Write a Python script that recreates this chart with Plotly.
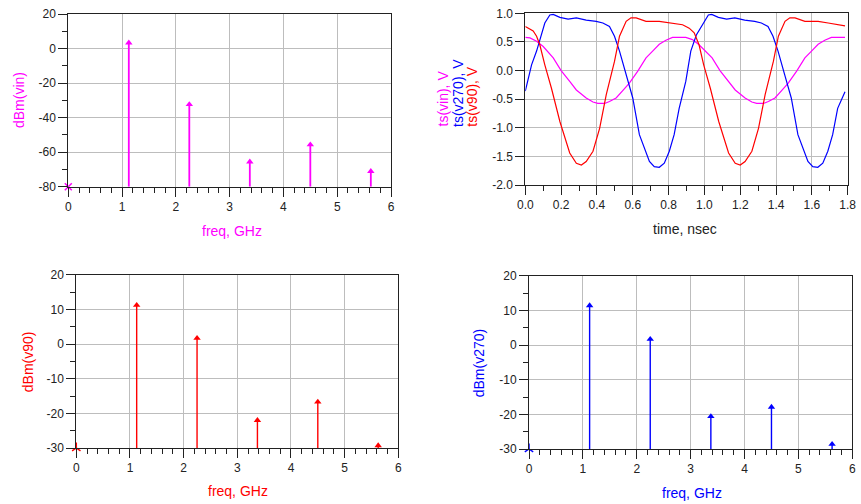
import plotly.graph_objects as go

W, H = 861, 504
FONT = "Arial, Liberation Sans, sans-serif"
MAG, BLUE, RED = "#ff00ff", "#0000ff", "#ff0000"

# ---------------- data ----------------
harm_freq = [1.125, 2.25, 3.375, 4.5, 5.625]   # GHz
dc_freq = [0.0]
dbm_vin = [3.3, -32.4, -65.6, -55.7, -71.1]
dbm_v90 = [11.2, 1.7, -22.0, -16.7, -29.3]
dbm_v270 = [11.4, 1.7, -20.6, -17.9, -28.6]
floor_vin = -80
floor_v = -30

t_vin = [0.0, 0.026, 0.063, 0.1, 0.156, 0.2, 0.248, 0.285, 0.34, 0.378, 0.405, 0.443,
         0.47, 0.507, 0.544, 0.581, 0.628, 0.674, 0.711, 0.748, 0.785, 0.822, 0.896,
         0.933, 0.97, 1.043, 1.087, 1.135, 1.172, 1.227, 1.265, 1.292, 1.33, 1.357,
         1.394, 1.431, 1.468, 1.515, 1.561, 1.598, 1.635, 1.672, 1.709, 1.785]
ts_vin = [0.58, 0.57, 0.51, 0.42, 0.22, 0.0, -0.19, -0.34, -0.48, -0.55, -0.575, -0.575,
          -0.54, -0.48, -0.35, -0.22, -0.01, 0.22, 0.34, 0.46, 0.53, 0.58, 0.58,
          0.54, 0.45, 0.22, 0.0, -0.19, -0.34, -0.48, -0.55, -0.575, -0.575, -0.54,
          -0.48, -0.35, -0.22, -0.01, 0.22, 0.34, 0.46, 0.53, 0.58, 0.58]

t_v90 = [0.0, 0.044, 0.063, 0.081, 0.109, 0.146, 0.193, 0.248, 0.285, 0.313, 0.34, 0.378,
         0.415, 0.452, 0.498, 0.526, 0.563, 0.59, 0.619, 0.674, 0.748, 0.804, 0.878,
         0.915, 0.943, 0.97, 0.996, 1.033, 1.08, 1.135, 1.172, 1.2, 1.227, 1.265, 1.302,
         1.339, 1.385, 1.413, 1.45, 1.477, 1.506, 1.561, 1.635, 1.691, 1.765, 1.785]
ts_v90 = [0.77, 0.69, 0.6, 0.45, 0.10, -0.31, -0.89, -1.44, -1.62, -1.65, -1.59, -1.41,
          -1.01, -0.42, 0.16, 0.6, 0.86, 0.92, 0.92, 0.86, 0.86, 0.83, 0.8,
          0.74, 0.66, 0.45, 0.10, -0.31, -0.89, -1.44, -1.62, -1.65, -1.59, -1.41, -1.01,
          -0.42, 0.16, 0.6, 0.86, 0.92, 0.92, 0.86, 0.86, 0.83, 0.8, 0.78]

t_v270 = [0.0, 0.017, 0.035, 0.063, 0.081, 0.109, 0.137, 0.156, 0.193, 0.239, 0.285, 0.34,
          0.396, 0.433, 0.47, 0.498, 0.526, 0.563, 0.6, 0.637, 0.665, 0.693, 0.72, 0.748,
          0.776, 0.804, 0.831, 0.859, 0.896, 0.924, 0.955, 0.994, 1.022, 1.041, 1.078,
          1.124, 1.17, 1.225, 1.281, 1.318, 1.355, 1.383, 1.411, 1.448, 1.485, 1.522,
          1.55, 1.578, 1.605, 1.633, 1.661, 1.689, 1.716, 1.744, 1.785]
ts_v270 = [-0.36, -0.16, 0.1, 0.34, 0.54, 0.83, 0.97, 0.98, 0.93, 0.9, 0.92, 0.88,
           0.86, 0.83, 0.77, 0.6, 0.34, -0.07, -0.48, -1.12, -1.36, -1.59, -1.68, -1.69,
           -1.62, -1.41, -1.12, -0.66, -0.19, 0.34, 0.62, 0.83, 0.97, 0.98, 0.93,
           0.9, 0.92, 0.88, 0.86, 0.83, 0.77, 0.6, 0.34, -0.07, -0.48, -1.12,
           -1.36, -1.59, -1.68, -1.69, -1.62, -1.41, -1.12, -0.66, -0.37]

freq_ticks = [0, 1, 2, 3, 4, 5, 6]
freq_labels = ["0", "1", "2", "3", "4", "5", "6"]
vin_ticks = [20, 0, -20, -40, -60, -80]
vin_labels = ["20", "0", "-20", "-40", "-60", "-80"]
v_ticks = [20, 10, 0, -10, -20, -30]
v_labels = ["20", "10", "0", "-10", "-20", "-30"]
time_ticks = [0.0, 0.2, 0.4, 0.6, 0.8, 1.0, 1.2, 1.4, 1.6, 1.8]
time_labels = ["0.0", "0.2", "0.4", "0.6", "0.8", "1.0", "1.2", "1.4", "1.6", "1.8"]
volt_ticks = [1.0, 0.5, 0.0, -0.5, -1.0, -1.5, -2.0]
volt_labels = ["1.0", "0.5", "0.0", "-0.5", "-1.0", "-1.5", "-2.0"]


# ---------------- helpers ----------------
def px_x(p):
    return p / W


def px_y(p):
    return 1 - p / H


def stems(freqs, vals, floor):
    xs, ys = [], []
    for f, v in zip(freqs, vals):
        xs += [f, f, None]
        ys += [floor, v, None]
    return xs, ys


def axis(domain, rng, tickvals, ticktext, minor_dtick=None, anchor=None):
    d = dict(
        domain=domain, range=rng, anchor=anchor, automargin=False,
        tickmode="array", tickvals=tickvals, ticktext=ticktext,
        showline=True, linecolor="#222", linewidth=1, mirror=True,
        ticks="outside", ticklen=9, tickwidth=1, tickcolor="#222",
        showgrid=True, gridcolor="#bdbdbd", gridwidth=1,
        zeroline=False,
        tickfont=dict(family=FONT, size=12, color="#222"),
    )
    if minor_dtick is not None:
        d["minor"] = dict(tickmode="linear", tick0=0, dtick=minor_dtick,
                          ticks="outside", ticklen=5, tickwidth=1,
                          tickcolor="#222", showgrid=False)
    return d


fig = go.Figure()


def spectrum(freqs, vals, floor, color, dc_symbol, xa, ya, width):
    sx, sy = stems(freqs, vals, floor)
    fig.add_trace(go.Scatter(x=sx, y=sy, mode="lines", xaxis=xa, yaxis=ya,
                             line=dict(color=color, width=width), hoverinfo="skip"))
    fig.add_trace(go.Scatter(x=freqs, y=vals, mode="markers", xaxis=xa, yaxis=ya,
                             marker=dict(symbol="triangle-up", size=6.5, color=color),
                             cliponaxis=False))
    fig.add_trace(go.Scatter(x=dc_freq, y=[floor], mode="markers", xaxis=xa, yaxis=ya,
                             marker=dict(symbol=dc_symbol, size=7, color=color,
                                         line=dict(color=color, width=1.5)),
                             cliponaxis=False))


spectrum(harm_freq, dbm_vin, floor_vin, MAG, "x-thin-open", "x", "y", 1.8)
spectrum(harm_freq, dbm_v90, floor_v, RED, "y-up-open", "x3", "y3", 1.4)
spectrum(harm_freq, dbm_v270, floor_v, BLUE, "y-up-open", "x4", "y4", 1.4)

for t, v, c in [(t_vin, ts_vin, MAG), (t_v270, ts_v270, BLUE), (t_v90, ts_v90, RED)]:
    fig.add_trace(go.Scatter(x=t, y=v, mode="lines", xaxis="x2", yaxis="y2",
                             line=dict(color=c, width=1.2)))

fig.update_layout(
    width=W, height=H,
    margin=dict(l=0, r=0, t=0, b=0, autoexpand=False),
    paper_bgcolor="white", plot_bgcolor="white",
    showlegend=False,
    font=dict(family=FONT, size=12, color="#222"),
    xaxis=axis([px_x(68.3), px_x(391)], [0, 6], freq_ticks, freq_labels, 0.2, "y"),
    yaxis=axis([px_y(186.7), px_y(14)], [-80, 20], vin_ticks, vin_labels, 10, "x"),
    xaxis2=axis([px_x(525.3), px_x(847.7)], [0, 1.8], time_ticks, time_labels, 0.1, "y2"),
    yaxis2=axis([px_y(185), px_y(13.3)], [-2, 1], volt_ticks, volt_labels, None, "x2"),
    xaxis3=axis([px_x(76.3), px_x(398.3)], [0, 6], freq_ticks, freq_labels, 0.2, "y3"),
    yaxis3=axis([px_y(448), px_y(274.7)], [-30, 20], v_ticks, v_labels, 5, "x3"),
    xaxis4=axis([px_x(529), px_x(852.3)], [0, 6], freq_ticks, freq_labels, 0.2, "y4"),
    yaxis4=axis([px_y(449), px_y(275.7)], [-30, 20], v_ticks, v_labels, 5, "x4"),
)


def label(text, x, y, color, angle=0, yanchor="middle"):
    fig.add_annotation(text=text, x=px_x(x), y=px_y(y), xref="paper", yref="paper",
                       showarrow=False, textangle=angle, xanchor="center",
                       yanchor=yanchor, font=dict(family=FONT, size=14, color=color))


label("freq, GHz", 231.7, 231, MAG)
label("dBm(vin)", 19, 100, MAG, -90)
label("time, nsec", 685, 229, "#222")
label("ts(vin), V", 442, 128.5, MAG, -90, "bottom")
label("ts(v270), V", 457.5, 128.5, BLUE, -90, "bottom")
label("ts(v90), V", 471.7, 128.5, RED, -90, "bottom")
label("freq, GHz", 237.5, 491, RED)
label("dBm(v90)", 27.5, 361.7, RED, -90)
label("freq, GHz", 691.7, 492.5, BLUE)
label("dBm(v270)", 479, 363.3, BLUE, -90)

fig.write_html("out.html",
               config={"displayModeBar": False},
               post_script="document.body.style.margin='0';document.body.style.overflow='hidden';")
